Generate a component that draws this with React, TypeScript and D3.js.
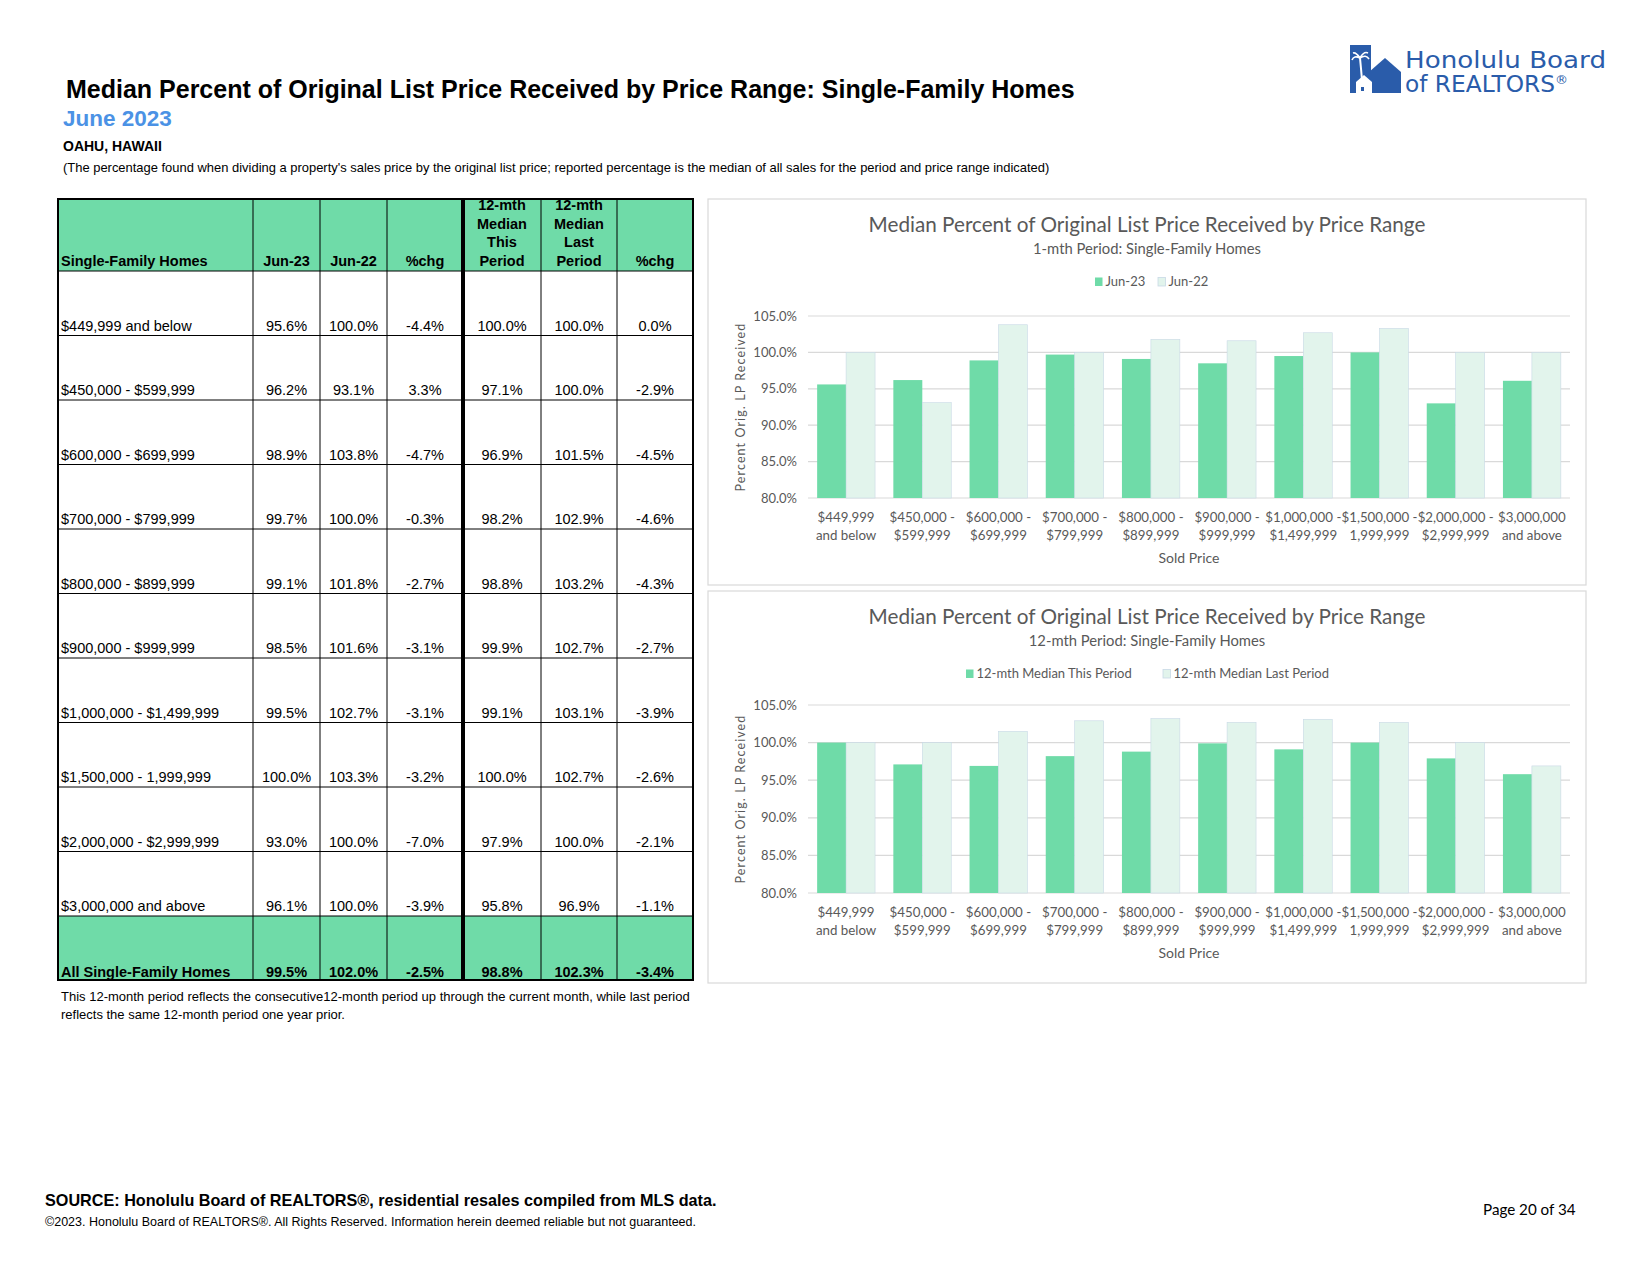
import React from "react";
import * as d3 from "d3";

// price ranges as printed in the table
const priceRanges = [
  "$449,999 and below",
  "$450,000 - $599,999",
  "$600,000 - $699,999",
  "$700,000 - $799,999",
  "$800,000 - $899,999",
  "$900,000 - $999,999",
  "$1,000,000 - $1,499,999",
  "$1,500,000 - 1,999,999",
  "$2,000,000 - $2,999,999",
  "$3,000,000 and above",
];

// same ranges, split over two lines for the chart axes
const axisLabels = [
  ["$449,999", "and below"],
  ["$450,000 -", "$599,999"],
  ["$600,000 -", "$699,999"],
  ["$700,000 -", "$799,999"],
  ["$800,000 -", "$899,999"],
  ["$900,000 -", "$999,999"],
  ["$1,000,000 -", "$1,499,999"],
  ["$1,500,000 -", "1,999,999"],
  ["$2,000,000 -", "$2,999,999"],
  ["$3,000,000", "and above"],
];

const jun23 = [95.6, 96.2, 98.9, 99.7, 99.1, 98.5, 99.5, 100.0, 93.0, 96.1];
const jun22 = [100.0, 93.1, 103.8, 100.0, 101.8, 101.6, 102.7, 103.3, 100.0, 100.0];
const chg1 = [-4.4, 3.3, -4.7, -0.3, -2.7, -3.1, -3.1, -3.2, -7.0, -3.9];
const this12 = [100.0, 97.1, 96.9, 98.2, 98.8, 99.9, 99.1, 100.0, 97.9, 95.8];
const last12 = [100.0, 100.0, 101.5, 102.9, 103.2, 102.7, 103.1, 102.7, 100.0, 96.9];
const chg12 = [0.0, -2.9, -4.5, -4.6, -4.3, -2.7, -3.9, -2.6, -2.1, -1.1];
const totals = [99.5, 102.0, -2.5, 98.8, 102.3, -3.4];

const headers = [
  ["Single-Family Homes"],
  ["Jun-23"],
  ["Jun-22"],
  ["%chg"],
  ["12-mth", "Median", "This", "Period"],
  ["12-mth", "Median", "Last", "Period"],
  ["%chg"],
];

const yTicks = [80, 85, 90, 95, 100, 105];

const GREEN = "#6FDBA8";
const LIGHT = "#E2F4EC";
const LIGHT_EDGE = "#C9D9E6";
const GREY_TXT = "#595959";
const BLUE = "#2A5CAA";
const TBL_FONT = "'Liberation Sans', Arial, sans-serif";
const CH_FONT = "Lato, 'Open Sans', sans-serif";

const fmt = (v: number) => v.toFixed(1) + "%";

const Table = () => {
  const colX = [58, 253, 320, 387, 463, 541, 617, 693];
  const top = 199, headBottom = 271, bodyBottom = 916, bottom = 980;
  const rowY = d3.scaleBand<string>().domain(priceRanges).range([headBottom, bodyBottom]);
  const rows = priceRanges.map((r, i) => [jun23[i], jun22[i], chg1[i], this12[i], last12[i], chg12[i]]);
  const cx = (c: number) => (colX[c] + colX[c + 1]) / 2;

  return (
    <g fontFamily={TBL_FONT} fontSize={14.5} fill="#000">
      <rect x={colX[0]} y={top} width={colX[7] - colX[0]} height={headBottom - top} fill={GREEN} />
      <rect x={colX[0]} y={bodyBottom} width={colX[7] - colX[0]} height={bottom - bodyBottom} fill={GREEN} />
      {/* header text, bottom aligned */}
      {headers.map((lines, c) =>
        lines.map((t, k) => (
          <text key={c + "-" + k} x={c === 0 ? colX[0] + 3 : cx(c)} y={266 - (lines.length - 1 - k) * 18.7}
            textAnchor={c === 0 ? "start" : "middle"} fontWeight="bold">{t}</text>
        ))
      )}
      {priceRanges.map((r, i) => {
        const yb = (rowY(r) as number) + rowY.bandwidth();
        return (
          <g key={r}>
            <text x={colX[0] + 3} y={yb - 5}>{r}</text>
            {rows[i].map((v, c) => (
              <text key={c} x={cx(c + 1)} y={yb - 5} textAnchor="middle">{fmt(v)}</text>
            ))}
            <line x1={colX[0]} x2={colX[7]} y1={yb} y2={yb} stroke="#000" strokeWidth={1} />
          </g>
        );
      })}
      <text x={colX[0] + 3} y={bottom - 3} fontWeight="bold">All Single-Family Homes</text>
      {totals.map((v, c) => (
        <text key={c} x={cx(c + 1)} y={bottom - 3} textAnchor="middle" fontWeight="bold">{fmt(v)}</text>
      ))}
      <line x1={colX[0]} x2={colX[7]} y1={headBottom} y2={headBottom} stroke="#000" strokeWidth={1} />
      {colX.slice(1, 7).map((x, c) => (
        <line key={c} x1={x} x2={x} y1={top} y2={bottom} stroke="#000" strokeWidth={c === 3 ? 4 : 1} />
      ))}
      <rect x={colX[0]} y={top} width={colX[7] - colX[0]} height={bottom - top} fill="none" stroke="#000" strokeWidth={2} />
      <g fontSize={13}>
        <text x={61} y={1001}>This 12-month period reflects the consecutive12-month period up through the current month, while last period</text>
        <text x={61} y={1019}>reflects the same 12-month period one year prior.</text>
      </g>
    </g>
  );
};

type ChartProps = {
  panelTop: number;
  panelH: number;
  subtitle: string;
  a: number[];
  b: number[];
  names: string[];
  legendX: number[];
  yTop: number;
  yBottom: number;
};

const PLOT_L = 808, PLOT_R = 1570;

const BarChart = ({ panelTop, panelH, subtitle, a, b, names, legendX, yTop, yBottom }: ChartProps) => {
  const x = d3.scaleBand<string>().domain(priceRanges).range([PLOT_L, PLOT_R]).paddingInner(0.24).paddingOuter(0.12);
  const inner = d3.scaleBand<string>().domain(["a", "b"]).range([0, x.bandwidth()]);
  const y = d3.scaleLinear().domain([80, 105]).range([yBottom, yTop]);
  const midX = 1147;
  const legendY = panelTop + 87;

  return (
    <g fontFamily={CH_FONT} fill={GREY_TXT}>
      <rect x={708} y={panelTop} width={878} height={panelH} fill="#fff" stroke="#D9D9D9" strokeWidth={1.2} />
      <text x={midX} y={panelTop + 33} textAnchor="middle" fontSize={20.7}>Median Percent of Original List Price Received by Price Range</text>
      <text x={midX} y={panelTop + 55} textAnchor="middle" fontSize={14.8}>{subtitle}</text>
      <rect x={legendX[0]} y={legendY - 8.5} width={7.5} height={8.5} fill={GREEN} />
      <text x={legendX[0] + 10.5} y={legendY} fontSize={13}>{names[0]}</text>
      <rect x={legendX[1]} y={legendY - 8.5} width={7.5} height={8.5} fill={LIGHT} stroke={LIGHT_EDGE} strokeWidth={0.8} />
      <text x={legendX[1] + 10.5} y={legendY} fontSize={13}>{names[1]}</text>

      {yTicks.map((t) => (
        <g key={t}>
          <line x1={PLOT_L} x2={PLOT_R} y1={y(t)} y2={y(t)} stroke="#D9D9D9" strokeWidth={1.2} />
          <text x={797} y={y(t) + 4.5} textAnchor="end" fontSize={13}>{fmt(t)}</text>
        </g>
      ))}
      {priceRanges.map((r, i) => {
        const x0 = x(r) as number;
        return (
          <g key={r}>
            <rect x={x0 + (inner("a") as number)} y={y(a[i])} width={inner.bandwidth()} height={y(80) - y(a[i])} fill={GREEN} />
            <rect x={x0 + (inner("b") as number)} y={y(b[i])} width={inner.bandwidth()} height={y(80) - y(b[i])}
              fill={LIGHT} stroke={LIGHT_EDGE} strokeWidth={0.6} />
            {axisLabels[i].map((t, k) => (
              <text key={k} x={x0 + x.bandwidth() / 2} y={yBottom + 23.5 + k * 18} textAnchor="middle" fontSize={13.3}>{t}</text>
            ))}
          </g>
        );
      })}
      <text x={(PLOT_L + PLOT_R) / 2} y={yBottom + 65} textAnchor="middle" fontSize={14}>Sold Price</text>
      <text transform={`translate(745,${(yTop + yBottom) / 2}) rotate(-90)`} textAnchor="middle" fontSize={12.5} letterSpacing={1.1}>
        Percent Orig. LP Received
      </text>
    </g>
  );
};

const Logo = () => (
  <g>
    <rect x={1350} y={45} width={21} height={48} fill={BLUE} />
    <polygon points="1369,93 1369,72 1385,58 1401,72 1401,93" fill={BLUE} />
    <polygon points="1356,93 1356,82 1364,75 1372,82 1372,93" fill="#fff" />
    <rect x={1361} y={87} width={3} height={4} fill={BLUE} />
    <path d="M1362,80 Q1361,68 1360,58" stroke="#fff" strokeWidth={2} fill="none" />
    <path d="M1360,58 Q1354,55 1352,60 M1360,58 Q1366,54 1369,59 M1360,58 Q1356,52 1353,53 M1360,58 Q1364,51 1368,53" stroke="#fff" strokeWidth={1.6} fill="none" />
    <text x={1405} y={68} fontFamily="'DejaVu Sans', sans-serif" fontSize={23} fill={BLUE} textLength={201} lengthAdjust="spacingAndGlyphs">Honolulu Board</text>
    <text x={1405} y={92} fontFamily="'DejaVu Sans', sans-serif" fontSize={23} fill={BLUE}>
      <tspan textLength={150} lengthAdjust="spacingAndGlyphs">of REALTORS</tspan>
      <tspan fontSize={13} dy={-8}>®</tspan>
    </text>
  </g>
);

export default function App() {
  return (
    <div style={{ position: "absolute", left: 0, top: 0 }}>
      <svg width={1650} height={1275} style={{ display: "block", background: "#fff" }}>
        <g fontFamily={TBL_FONT}>
          <text x={66} y={98} fontSize={25} fontWeight="bold">Median Percent of Original List Price Received by Price Range: Single-Family Homes</text>
          <text x={63} y={126} fontSize={22.5} fontWeight="bold" fill="#4B92E5">June 2023</text>
          <text x={63} y={151} fontSize={14} fontWeight="bold">OAHU, HAWAII</text>
          <text x={63} y={172} fontSize={12.95}>(The percentage found when dividing a property's sales price by the original list price; reported percentage is the median of all sales for the period and price range indicated)</text>
        </g>
        <Logo />
        <Table />
        <BarChart panelTop={199} panelH={386} subtitle="1-mth Period: Single-Family Homes" a={jun23} b={jun22}
          names={["Jun-23", "Jun-22"]} legendX={[1095, 1158]} yTop={316} yBottom={498} />
        <BarChart panelTop={591} panelH={392} subtitle="12-mth Period: Single-Family Homes" a={this12} b={last12}
          names={["12-mth Median This Period", "12-mth Median Last Period"]} legendX={[966, 1163]} yTop={705} yBottom={893} />
        <g fontFamily={TBL_FONT}>
          <text x={45} y={1206} fontSize={16.2} fontWeight="bold">SOURCE: Honolulu Board of REALTORS®, residential resales compiled from MLS data.</text>
          <text x={45} y={1226} fontSize={12.5}>©2023. Honolulu Board of REALTORS®. All Rights Reserved. Information herein deemed reliable but not guaranteed.</text>
        </g>
        <text x={1483} y={1215} fontFamily={CH_FONT} fontSize={15.2} fill="#000">Page 20 of 34</text>
      </svg>
    </div>
  );
}
